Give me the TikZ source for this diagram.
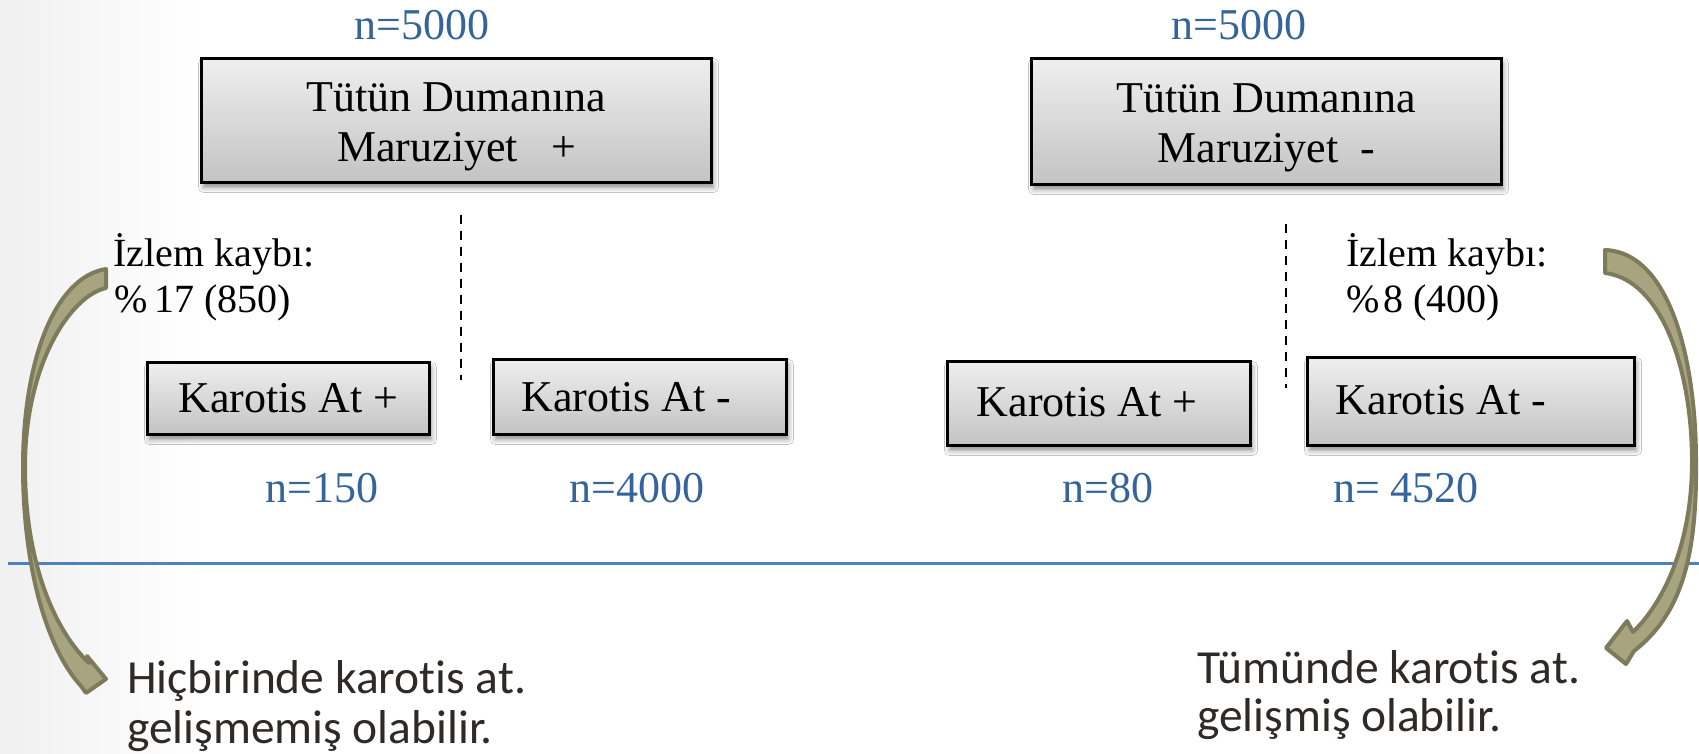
\documentclass[tikz,border=0pt]{standalone}
\usepackage{fontspec}
\setmainfont{Liberation Serif}
\newfontfamily\notefont[Ligatures=NoCommon]{Carlito}
\usetikzlibrary{shadows.blur}

\definecolor{nblue}{HTML}{35649B}
\definecolor{rulecol}{HTML}{4F81BD}
\definecolor{olivedark}{HTML}{7E7B5C}
\definecolor{olivelight}{HTML}{A7A47F}
\definecolor{notetext}{HTML}{2F2A26}
\definecolor{boxtop}{HTML}{EFEFEF}
\definecolor{boxbot}{HTML}{C3C3C3}

\tikzset{
  greybox/.style={draw=black, line width=3pt, top color=boxtop, bottom color=boxbot,
    inner sep=0pt, align=center, font=\fontsize{44}{50}\selectfont,
    blur shadow={shadow xshift=2pt, shadow yshift=-5pt, shadow opacity=45, shadow blur radius=5pt}},
  count/.style={text=nblue, font=\fontsize{44}{50}\selectfont, anchor=base, inner sep=0pt},
  loss/.style={font=\fontsize{40}{46}\selectfont, anchor=base west, inner sep=0pt},
  note/.style={font=\notefont\fontsize{47.5}{50}\selectfont, text=notetext, anchor=base west, inner sep=0pt},
  sepline/.style={dash pattern=on 9pt off 7pt, line width=2pt},
  bentarrow/.style={draw=olivedark, fill=olivelight, line width=4pt, line join=round},
}

\begin{document}
\begin{tikzpicture}[x=1pt, y=-1pt]
  \useasboundingbox (0,0) rectangle (1699,754);
  \clip (0,0) rectangle (1699,754);

  % page background with a faint grey glow on the left edge
  \fill[white] (0,0) rectangle (1699,754);
  \fill[left color=black!6, right color=white] (0,0) rectangle (200,754);

  % horizontal rule
  \coordinate (ruleA) at (8,563);
  \coordinate (ruleB) at (1699,563);
  \draw[rulecol, line width=3pt] (ruleA) -- (ruleB);

  % curved block arrows
  \path[bentarrow] (106,269) .. controls (55,277) and (23,360) .. (23,467)
    .. controls (23,565) and (46,648) .. (81,686)
    -- (86,693) -- (106,679) -- (87,656) -- (89,663)
    .. controls (56,632) and (25,565) .. (25,467)
    .. controls (25,365) and (70,296) .. (106,288) -- cycle;
  \path[bentarrow] (1605,250) .. controls (1668,252) and (1696,355) .. (1696,462)
    .. controls (1697,560) and (1680,615) .. (1634,651)
    -- (1626,664) -- (1606,648) -- (1627,621) -- (1633,632)
    .. controls (1666,600) and (1692,540) .. (1692,462)
    .. controls (1692,370) and (1662,280) .. (1605,273) -- cycle;

  % exposed group
  \node[count] (nL) at (422,40) {n=5000};
  \node[greybox, minimum width=510pt, minimum height=124pt] (expL) at (456.5,120.5)
    {\rule{0pt}{42pt}Tütün Dumanına\\Maruziyet\hspace{22pt} +};
  \coordinate (dLt) at (461,215);
  \coordinate (dLb) at (461,380);
  \draw[sepline] (dLt) -- (dLb);
  \node[loss] (lossL1) at (113,266) {İzlem kaybı:};
  \node[loss] (lossL2) at (114,312) {\%\hspace{7pt}17 (850)};
  \node[greybox, minimum width=282pt, minimum height=72pt] (kLp) at (288.5,398.5) {Karotis At +};
  \node[greybox, minimum width=293pt, minimum height=75pt] (kLn) at (640,397) {Karotis At -\hspace*{27pt}};
  \node[count] (cLp) at (322,502) {n=150};
  \node[count] (cLn) at (637,502) {n=4000};

  % unexposed group
  \node[count] (nR) at (1239,40) {n=5000};
  \node[greybox, minimum width=470pt, minimum height=126pt] (expR) at (1266.5,121.5)
    {\rule{0pt}{42pt}Tütün Dumanına\\Maruziyet\hspace{11pt} -};
  \coordinate (dRt) at (1286,224);
  \coordinate (dRb) at (1286,388);
  \draw[sepline] (dRt) -- (dRb);
  \node[loss] (lossR1) at (1346,266) {İzlem kaybı:};
  \node[loss] (lossR2) at (1346,312) {\%\hspace{4pt}8 (400)};
  \node[greybox, minimum width=303pt, minimum height=84pt] (kRp) at (1099,403.5) {\raisebox{3pt}{Karotis At +}\hspace*{24pt}};
  \node[greybox, minimum width=327pt, minimum height=88pt] (kRn) at (1471,401.5) {\raisebox{4pt}{Karotis At -}\hspace*{60pt}};
  \node[count] (cRp) at (1108,502) {n=80};
  \node[count] (cRn) at (1406,502) {n= 4520};

  % conclusions
  \node[note] (noteL1) at (127,693) {Hiçbirinde karotis at.};
  \node[note] (noteL2) at (127,743) {gelişmemiş olabilir.};
  \node[note] (noteR1) at (1197,683) {Tümünde karotis at.};
  \node[note] (noteR2) at (1197,731) {gelişmiş olabilir.};
\end{tikzpicture}
\end{document}
